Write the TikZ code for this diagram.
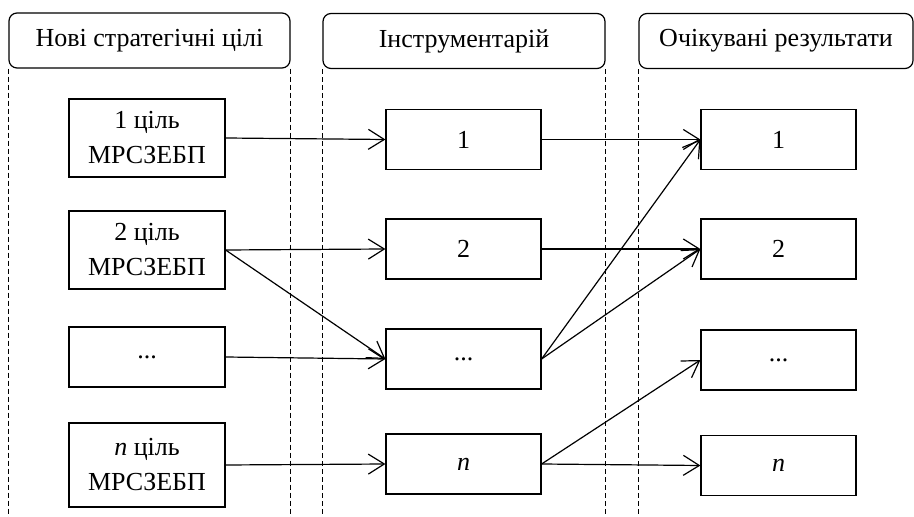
\documentclass[tikz,border=0pt]{standalone}
\usepackage{fontspec}
\setmainfont{Liberation Serif}
\usetikzlibrary{arrows.meta}
\tikzset{
  head/.style={draw, rounded corners=4pt, minimum height=27.5pt, inner sep=0pt},
  goalbox/.style={draw, minimum width=78pt, align=center, inner sep=0pt},
  itembox/.style={draw, minimum width=77.5pt, minimum height=30pt, inner sep=0pt},
  lane/.style={dash pattern=on 2.5pt off 1.5pt},
  link/.style={-{Straight Barb[length=8pt,width=10pt]}}
}

\begin{document}
\begin{tikzpicture}[x=0.5pt, y=-0.5pt, line width=0.6pt,
  font=\fontsize{13}{17.5}\selectfont]
  \useasboundingbox (0,0) rectangle (914,517);

  % Column headings
  \node[head, minimum width=140.5pt] (hgoal) at (149.5,40.5) {Нові стратегічні цілі};
  \node[head, minimum width=141pt] (htool) at (464,41) {Інструментарій};
  \node[head, minimum width=137pt] (hres) at (776,41) {Очікувані результати};

  % Column borders
  \draw[lane] (hgoal.south west) -- ++(0,451);
  \draw[lane] (hgoal.south east) -- ++(0,451);
  \draw[lane] (htool.south west) -- ++(0,451);
  \draw[lane] (htool.south east) -- ++(0,451);
  \draw[lane] (hres.south west) -- ++(0,451);

  % Strategic goals
  \node[goalbox, minimum height=39pt] (goal1) at (147,138) {1 ціль\\МРСЗЕБП};
  \node[goalbox, minimum height=39pt] (goal2) at (147,250) {2 ціль\\МРСЗЕБП};
  \node[goalbox, minimum height=30pt] (goaldots) at (147,357) {...};
  \node[goalbox, minimum height=42pt] (goaln) at (147,465) {\textit{n} ціль\\МРСЗЕБП};

  % Tools
  \node[itembox] (tool1) at (463.5,139.5) {1};
  \node[itembox] (tool2) at (463.5,249) {2};
  \node[itembox] (tooldots) at (463.5,359) {...};
  \node[itembox] (tooln) at (463.5,464) {\textit{n}};

  % Expected results
  \node[itembox] (res1) at (778.5,139.5) {1};
  \node[itembox] (res2) at (778.5,249) {2};
  \node[itembox] (resdots) at (778.5,360) {...};
  \node[itembox] (resn) at (778.5,465.5) {\textit{n}};

  % Links
  \draw[link] (goal1.east) -- (tool1.west);
  \draw[link] (goal2.east) -- (tool2.west);
  \draw[link] (goal2.east) -- (tooldots.west);
  \draw[link] (goaldots.east) -- (tooldots.west);
  \draw[link] (goaln.east) -- (tooln.west);
  \draw[link] (tool1.east) -- (res1.west);
  \draw[link] (tool2.east) -- (res2.west);
  \draw[link] (tooldots.east) -- (res1.west);
  \draw[link] (tooldots.east) -- (res2.west);
  \draw[link] (tooln.east) -- (resdots.west);
  \draw[link] (tooln.east) -- (resn.west);
\end{tikzpicture}
\end{document}
